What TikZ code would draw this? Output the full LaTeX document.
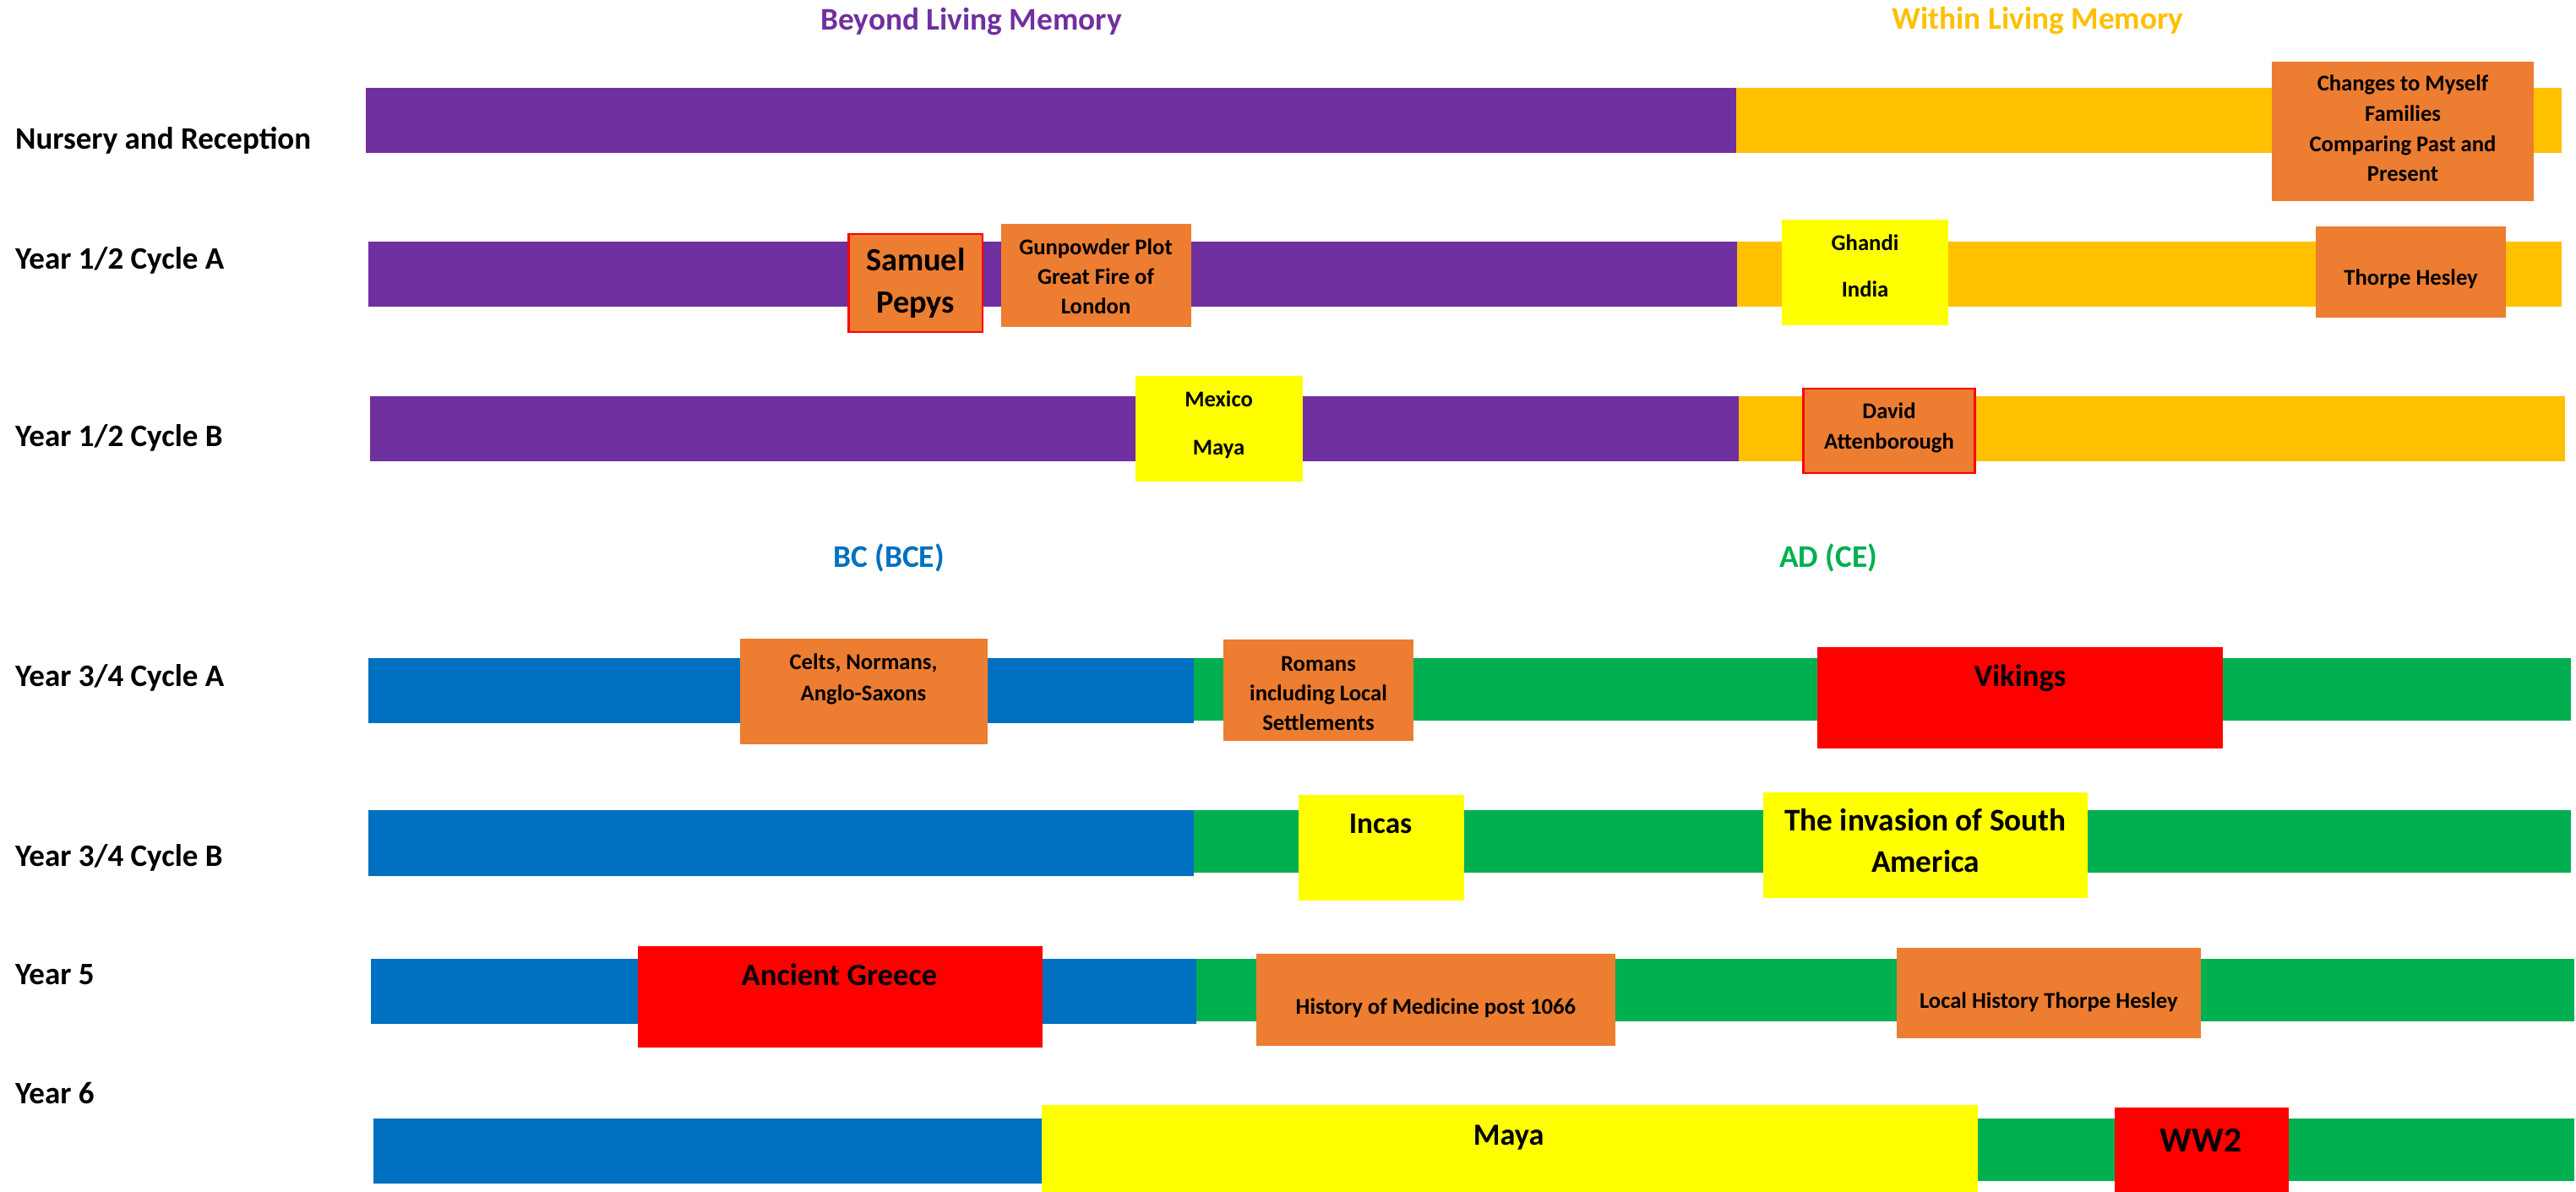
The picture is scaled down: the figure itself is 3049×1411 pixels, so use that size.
\documentclass[tikz,border=0pt]{standalone}
\usepackage{fontspec}
\setmainfont{Carlito}
\definecolor{cpurple}{HTML}{7030A0}
\definecolor{cgold}{HTML}{FFC000}
\definecolor{corange}{HTML}{ED7D31}
\definecolor{cyellow}{HTML}{FFFF00}
\definecolor{cred}{HTML}{FF0000}
\definecolor{cblue}{HTML}{0070C0}
\definecolor{cgreen}{HTML}{00B050}
\begin{document}
\begin{tikzpicture}[x=0.3pt,y=-0.3pt,
  lbl/.style={inner sep=0pt, anchor=base west, font=\bfseries\fontsize{11.1}{13}\selectfont},
  ttl/.style={inner sep=0pt, anchor=base, font=\bfseries\fontsize{11.2}{13}\selectfont},
  sm/.style={inner sep=0pt, anchor=base, font=\bfseries\fontsize{8.0}{9.5}\selectfont},
  bg/.style={inner sep=0pt, anchor=base, font=\bfseries\fontsize{11}{13}\selectfont},
  redframe/.style={fill=corange, draw=cred, line width=0.8pt}]
\useasboundingbox (0,0) rectangle (3049,1411);
\fill[white] (0,0) rectangle (3049,1411);

% titles
\node[ttl, text=cpurple] (tbeyond) at (1149.6,36) {Beyond Living Memory};
\node[ttl, text=cgold] (twithin) at (2412,35) {Within Living Memory};
\node[ttl, text=cblue] (tbc) at (1052,671) {BC (BCE)};
\node[ttl, text=cgreen] (tad) at (2164,671) {AD (CE)};

% row labels
\node[lbl] (l1) at (17.5,177) {Nursery and Reception};
\node[lbl] (l2) at (17.5,319) {Year 1/2 Cycle A};
\node[lbl] (l3) at (17.5,529) {Year 1/2 Cycle B};
\node[lbl] (l4) at (17.5,812) {Year 3/4 Cycle A};
\node[lbl] (l5) at (17.5,1025) {Year 3/4 Cycle B};
\node[lbl] (l6) at (17.5,1165) {Year 5};
\node[lbl] (l7) at (17.5,1306) {Year 6};

% bars
\fill[cpurple] (433,104) rectangle (2055,181);
\fill[cgold] (2055,104) rectangle (3032,181);
\fill[cpurple] (435.6,286) rectangle (2056,363);
\fill[cgold] (2056,286) rectangle (3032,363);
\fill[cpurple] (437.7,469) rectangle (2058,546);
\fill[cgold] (2058,469) rectangle (3035.6,546);
\fill[cblue] (435.6,779) rectangle (1413,855.5);
\fill[cgreen] (1413,779) rectangle (3043,853);
\fill[cblue] (435.6,959) rectangle (1413,1037);
\fill[cgreen] (1413,959) rectangle (3043,1033);
\fill[cblue] (439,1135) rectangle (1416,1211.5);
\fill[cgreen] (1416,1135) rectangle (3047,1209);
\fill[cblue] (442,1324) rectangle (1416,1400.5);
\fill[cgreen] (1416,1324) rectangle (3047,1397.7);

% Nursery
\fill[corange] (2689,73) rectangle (2999,238);
\node[sm] (ch1) at (2844,108) {Changes to Myself};
\node[sm] (ch2) at (2844,144) {Families};
\node[sm] (ch3) at (2844,180) {Comparing Past and};
\node[sm] (ch4) at (2844,215) {Present};

% Year 1/2 A
\filldraw[redframe] (1004.5,277) rectangle (1163,393);
\node[inner sep=0pt, anchor=base, font=\bfseries\fontsize{11.5}{13}\selectfont] (sp1) at (1083.8,321) {Samuel};
\node[inner sep=0pt, anchor=base, font=\bfseries\fontsize{11.5}{13}\selectfont] (sp2) at (1083.8,371) {Pepys};
\fill[corange] (1184.5,265) rectangle (1409.7,387);
\node[sm] (gp1) at (1297,302) {Gunpowder Plot};
\node[sm] (gp2) at (1297,337) {Great Fire of};
\node[sm] (gp3) at (1297,372) {London};
\fill[cyellow] (2109,260) rectangle (2306,385);
\node[sm] (gh1) at (2207.5,297) {Ghandi};
\node[sm] (gh2) at (2207.5,352) {India};
\fill[corange] (2741,268) rectangle (2966,376);
\node[sm] (th1) at (2853.6,338) {Thorpe Hesley};

% Year 1/2 B
\fill[cyellow] (1343.7,445) rectangle (1541.6,570);
\node[sm] (mx1) at (1442.6,482) {Mexico};
\node[sm] (mx2) at (1442.6,539) {Maya};
\filldraw[redframe] (2134.8,460) rectangle (2337.5,560);
\node[sm] (da1) at (2236,496) {David};
\node[sm] (da2) at (2236,531.7) {Attenborough};

% Year 3/4 A
\fill[corange] (875.5,756) rectangle (1169,881);
\node[sm] (ce1) at (1022,792.7) {Celts, Normans,};
\node[sm] (ce2) at (1022,829) {Anglo-Saxons};
\fill[corange] (1448,757) rectangle (1673,876.7);
\node[sm] (ro1) at (1560.5,794) {Romans};
\node[sm] (ro2) at (1560.5,829) {including Local};
\node[sm] (ro3) at (1560.5,864) {Settlements};
\fill[cred] (2151,766) rectangle (2631,885.7);
\node[bg] (vk) at (2391,812) {Vikings};

% Year 3/4 B
\fill[cyellow] (1536.7,941) rectangle (1733,1066);
\node[inner sep=0pt, anchor=base, font=\bfseries\fontsize{10.6}{12}\selectfont] (inc) at (1634,986.7) {Incas};
\fill[cyellow] (2087,937.7) rectangle (2471,1062.7);
\node[inner sep=0pt, anchor=base, font=\bfseries\fontsize{11.2}{13}\selectfont] (iv1) at (2279,983) {The invasion of South};
\node[inner sep=0pt, anchor=base, font=\bfseries\fontsize{11.2}{13}\selectfont] (iv2) at (2279,1032.7) {America};

% Year 5
\fill[cred] (754.8,1120) rectangle (1234.3,1240);
\node[bg] (ag) at (993.5,1166.7) {Ancient Greece};
\fill[corange] (1486.8,1129) rectangle (1912,1237.7);
\node[sm] (hm) at (1699.4,1200.7) {History of Medicine post 1066};
\fill[corange] (2244.8,1122) rectangle (2605.4,1229);
\node[sm] (lh) at (2424.8,1193) {Local History Thorpe Hesley};

% Year 6
\fill[cyellow] (1233,1308) rectangle (2341.2,1411);
\node[inner sep=0pt, anchor=base, font=\bfseries\fontsize{10.9}{13}\selectfont] (my) at (1785.7,1355) {Maya};
\fill[cred] (2503,1311) rectangle (2709,1411);
\node[inner sep=0pt, anchor=base, font=\bfseries\fontsize{12.5}{14}\selectfont] (ww) at (2605,1363) {WW2};
\end{tikzpicture}
\end{document}
